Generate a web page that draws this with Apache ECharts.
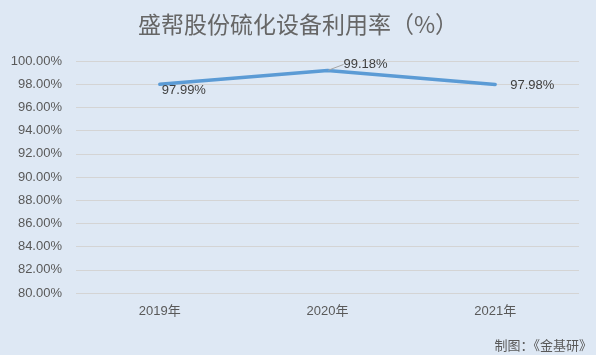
<!DOCTYPE html>
<html><head><meta charset="utf-8">
<script src="https://cdn.jsdelivr.net/npm/echarts@6/dist/echarts.min.js"></script>
<style>html,body{margin:0;padding:0;background:#dee8f4;}#c{width:596px;height:355px;}</style>
</head><body><div id="c"></div>
<script>
const categories = ['2019年', '2020年', '2021年'];
const values = [97.99, 99.18, 97.98];
const yTicks = { min: 80, max: 100, interval: 2 };
const titleText = '盛帮股份硫化设备利用率（%）';
const sourceText = '制图：《金基研》';

const labelPos = [
  { position: 'right', distance: 1 },
  { position: 'right', distance: 2 },
  { position: 'right', distance: 14 }
];
const labelShift = [
  { dx: 0, dy: 6 },
  { dx: 13, dy: -6 },
  { dx: 0, dy: 1 }
];

const chart = echarts.init(document.getElementById('c'));
chart.setOption({
  backgroundColor: '#dee8f4',
  textStyle: { fontFamily: '"Liberation Sans", "Noto Sans CJK SC", sans-serif' },
  title: {
    text: titleText, left: 'center', top: 8,
    textStyle: { fontSize: 23, fontWeight: 'normal', color: '#666666', fontFamily: '"Noto Sans CJK SC", sans-serif' }
  },
  graphic: [{
    type: 'text', right: 4, top: 339,
    style: { text: sourceText, fontSize: 13, fill: '#595959', fontFamily: '"Noto Sans CJK SC", sans-serif' }
  }],
  grid: { left: 76, right: 17, top: 61, bottom: 62 },
  xAxis: {
    type: 'category', data: categories, boundaryGap: true,
    axisLine: { show: false }, axisTick: { show: false },
    axisLabel: { color: '#595959', fontSize: 13, margin: 12 }
  },
  yAxis: {
    type: 'value', min: yTicks.min, max: yTicks.max, interval: yTicks.interval,
    axisLine: { show: false }, axisTick: { show: false },
    axisLabel: { color: '#595959', fontSize: 13, margin: 14, formatter: v => v.toFixed(2) + '%' },
    splitLine: { lineStyle: { color: '#d4d4d4', width: 1 } }
  },
  series: [{
    type: 'line',
    data: values.map((v, i) => ({
      value: v,
      label: Object.assign({}, labelPos[i]),
      labelLine: i === 1 ? { show: true, smooth: false, lineStyle: { color: '#a6a6a6', width: 1 } } : { show: false }
    })),
    labelLayout: p => labelShift[p.dataIndex],
    symbol: 'circle', symbolSize: 2, showSymbol: true,
    itemStyle: { color: 'rgba(91,155,213,0)' },
    lineStyle: { color: '#5b9bd5', width: 3.5, cap: 'round', join: 'round' },
    label: {
      show: true, color: '#404040', fontSize: 13,
      formatter: p => p.value.toFixed(2) + '%'
    }
  }]
});
</script></body></html>
